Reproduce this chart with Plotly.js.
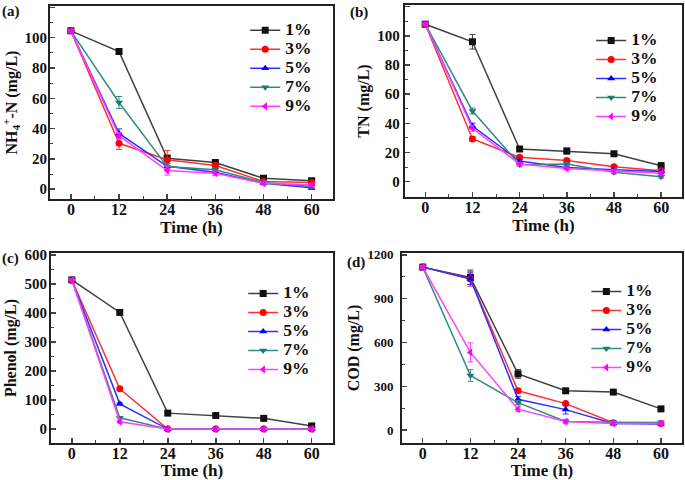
<!DOCTYPE html>
<html>
<head>
<meta charset="utf-8">
<script src="https://cdn.plot.ly/plotly-3.0.1.min.js"></script>
<style>html,body{margin:0;padding:0;background:#fff;}#chart{width:685px;height:480px;}</style>
</head>
<body>
<div id="chart"></div>
<script>
// ---- data ----
const time = [0, 12, 24, 36, 48, 60];
const seriesNames = ['1%', '3%', '5%', '7%', '9%'];

// (a) NH4+-N (mg/L)
const nh4_1 = [104.5, 90.8, 20.4, 17.6, 7.2, 5.5];
const nh4_3 = [104.5, 30.3, 19.5, 15.6, 5.1, 4.4];
const nh4_5 = [104.5, 36.8, 15.1, 11.2, 3.9, 0.9];
const nh4_7 = [104.5, 57.2, 14.9, 12.8, 4.4, 1.8];
const nh4_9 = [104.5, 35.3, 12.3, 10.5, 3.9, 2.8];
const nh4Err_1 = [0.8, 1, 2, 1.5, 1.5, 1];
const nh4Err_3 = [0.8, 4, 6, 1.5, 1, 1];
const nh4Err_5 = [0.8, 3, 2, 1, 1, 1];
const nh4Err_7 = [0.8, 4, 2, 1, 1, 1];
const nh4Err_9 = [0.8, 2, 3, 1.5, 1, 1];

// (b) TN (mg/L)
const tn_1 = [108, 96, 22.4, 21, 19.2, 11];
const tn_3 = [108, 29.3, 16.7, 14.6, 10.3, 7.5];
const tn_5 = [108, 38.2, 14.2, 9.8, 8.2, 6.9];
const tn_7 = [108, 48.5, 11.7, 12.1, 6.4, 3.4];
const tn_9 = [108, 36.6, 12.1, 9.1, 7.3, 5.7];
const tnErr_1 = [0.8, 5, 1.5, 2, 1, 2];
const tnErr_3 = [0.8, 1.5, 1, 1, 1, 1];
const tnErr_5 = [0.8, 2, 1, 1, 1, 1];
const tnErr_7 = [0.8, 2, 1, 1, 1, 1];
const tnErr_9 = [0.8, 2, 1, 1, 1, 1];

// (c) Phenol (mg/L)
const ph_1 = [514, 402, 55, 47, 37, 11];
const ph_3 = [514, 139, 0, 0, 0, 0];
const ph_5 = [514, 87, 0, 0, 0, 0];
const ph_7 = [514, 39, 0, 0, 0, 0];
const ph_9 = [514, 25, 0, 0, 0, 0];
const phErr_1 = [3, 4, 4, 3, 3, 3];
const phErr_3 = [3, 4, 2, 2, 2, 2];
const phErr_5 = [3, 4, 2, 2, 2, 2];
const phErr_7 = [3, 4, 2, 2, 2, 2];
const phErr_9 = [3, 4, 2, 2, 2, 2];

// (d) COD (mg/L)
const cod_1 = [1116, 1046, 385, 269, 260, 145];
const cod_3 = [1116, 1035, 269, 181, 50, 45];
const cod_5 = [1116, 1037, 211, 140, 45, 41];
const cod_7 = [1116, 374, 188, 59, 54, 52];
const cod_9 = [1116, 532, 143, 59, 45, 45];
const codErr_1 = [10, 50, 30, 10, 10, 10];
const codErr_3 = [10, 50, 15, 10, 10, 10];
const codErr_5 = [10, 40, 20, 30, 10, 10];
const codErr_7 = [10, 40, 15, 10, 10, 10];
const codErr_9 = [10, 65, 15, 15, 10, 10];

// ---- styles ----
const lineColors = ['#404040', '#ff3030', '#3030ff', '#2e8c84', '#ff40ff'];
const markColors = ['#111111', '#ff0000', '#0000ff', '#1e7a72', '#ff00ff'];
const symbols = ['square', 'circle', 'triangle-up', 'triangle-down', 'triangle-left'];
const FONT = 'Liberation Serif, Times New Roman, serif';

const panels = [
  {ys: [nh4_1, nh4_3, nh4_5, nh4_7, nh4_9], es: [nh4Err_1, nh4Err_3, nh4Err_5, nh4Err_7, nh4Err_9], xa: 'x', ya: 'y', leg: 'legend'},
  {ys: [tn_1, tn_3, tn_5, tn_7, tn_9], es: [tnErr_1, tnErr_3, tnErr_5, tnErr_7, tnErr_9], xa: 'x2', ya: 'y2', leg: 'legend2'},
  {ys: [ph_1, ph_3, ph_5, ph_7, ph_9], es: [phErr_1, phErr_3, phErr_5, phErr_7, phErr_9], xa: 'x3', ya: 'y3', leg: 'legend3'},
  {ys: [cod_1, cod_3, cod_5, cod_7, cod_9], es: [codErr_1, codErr_3, codErr_5, codErr_7, codErr_9], xa: 'x4', ya: 'y4', leg: 'legend4'}
];

const traces = [];
panels.forEach(p => {
  p.ys.forEach((y, i) => {
    traces.push({
      x: time, y: y,
      name: '<b><span style="font-size:17.5px">' + seriesNames[i] + '</span></b>',
      type: 'scatter', mode: 'lines+markers',
      xaxis: p.xa, yaxis: p.ya, legend: p.leg,
      line: {color: lineColors[i], width: 1.5},
      marker: {symbol: symbols[i], size: 7, color: markColors[i]},
      error_y: {type: 'data', array: p.es[i], visible: true, color: lineColors[i], thickness: 1, width: 3}
    });
  });
});

function xax(dom, anchor, tstand) {
  return {domain: dom, anchor: anchor, range: [-5.2, 65.3], tickvals: time, ticks: 'inside', ticklen: 5, tickwidth: 1.5,
    showline: true, linewidth: 2, linecolor: '#222', mirror: true, showgrid: false, zeroline: false,
    ticklabelstandoff: -5,
    minor: {dtick: 6, tick0: 0, ticks: 'inside', ticklen: 3, tickwidth: 1},
    tickfont: {family: FONT, size: 16, color: '#111', weight: 'bold'},
    title: {text: '<b>Time (h)</b>', font: {family: FONT, size: 17, color: '#111'}, standoff: tstand}};
}
function yax(dom, anchor, range, dtick, title, fsize, standoff) {
  return {domain: dom, anchor: anchor, range: range, dtick: dtick, tick0: 0, ticks: 'inside', ticklen: 5, tickwidth: 1.5,
    showline: true, linewidth: 2, linecolor: '#222', mirror: true, showgrid: false, zeroline: false,
    ticklabelstandoff: standoff,
    minor: {dtick: dtick / 2, tick0: 0, ticks: 'inside', ticklen: 3, tickwidth: 1},
    tickfont: {family: FONT, size: fsize, color: '#111', weight: 'bold'},
    title: {text: '<b>' + title + '</b>', font: {family: FONT, size: 16, color: '#111'}, standoff: 4}};
}
function legend(x, y) {
  return {x: x, y: y, xanchor: 'left', yanchor: 'top', bgcolor: 'rgba(0,0,0,0)', borderwidth: 0,
    font: {family: FONT, size: 11.3, color: '#111', weight: 'bold'}, itemwidth: 30, tracegroupgap: 0};
}

const layout = {
  width: 685, height: 480, margin: {l: 0, r: 0, t: 0, b: 0}, paper_bgcolor: '#fff', plot_bgcolor: '#fff',
  font: {family: FONT, color: '#111'},
  showlegend: true,
  xaxis: xax([0.073, 0.486], 'y', 1),
  yaxis: yax([0.585, 0.9875], 'x', [-6.6, 120.9], 20, 'NH<sub>4</sub><sup>+</sup>-N (mg/L)', 15, -2),
  xaxis2: xax([0.591, 0.9956], 'y2', 1),
  yaxis2: yax([0.5896, 0.9896], 'x2', [-10.5, 121.2], 20, 'TN (mg/L)', 15, 0),
  xaxis3: xax([0.0745, 0.486], 'y3', 3),
  yaxis3: yax([0.077, 0.473], 'x3', [-48, 607], 100, 'Phenol (mg/L)', 15, -1),
  xaxis4: xax([0.587, 0.9956], 'y4', 2),
  yaxis4: yax([0.077, 0.473], 'x4', [-89, 1213], 300, 'COD (mg/L)', 13, 4),
  legend: legend(0.358, 0.967),
  legend2: legend(0.863, 0.946),
  legend3: legend(0.355, 0.419),
  legend4: legend(0.856, 0.423),
  annotations: [
    {text: '<b>(a)</b>', x: 0.0, y: 0.998, xref: 'paper', yref: 'paper', xanchor: 'left', yanchor: 'top', showarrow: false, font: {family: FONT, size: 15, color: '#111'}},
    {text: '<b>(b)</b>', x: 0.508, y: 0.995, xref: 'paper', yref: 'paper', xanchor: 'left', yanchor: 'top', showarrow: false, font: {family: FONT, size: 15, color: '#111'}},
    {text: '<b>(c)</b>', x: 0.0, y: 0.483, xref: 'paper', yref: 'paper', xanchor: 'left', yanchor: 'top', showarrow: false, font: {family: FONT, size: 15, color: '#111'}},
    {text: '<b>(d)</b>', x: 0.503, y: 0.474, xref: 'paper', yref: 'paper', xanchor: 'left', yanchor: 'top', showarrow: false, font: {family: FONT, size: 15, color: '#111'}}
  ]
};

Plotly.newPlot('chart', traces, layout, {displayModeBar: false, staticPlot: true});
</script>
</body>
</html>
